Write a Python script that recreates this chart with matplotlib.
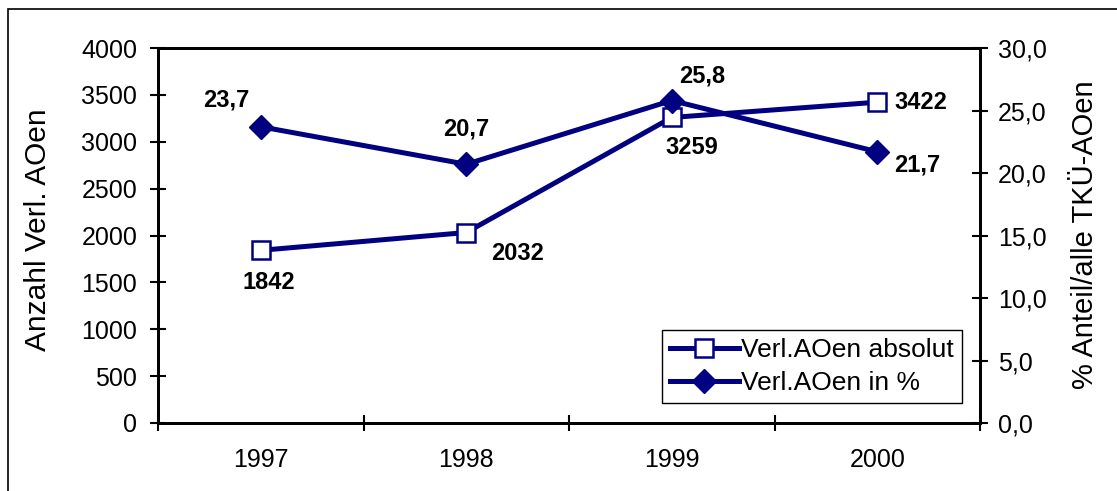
import matplotlib
matplotlib.use("Agg")
import matplotlib.pyplot as plt
from matplotlib.patches import Rectangle

plt.rcParams['font.family'] = ['Liberation Sans', 'DejaVu Sans']

# data
years = ["1997", "1998", "1999", "2000"]
absolut = [1842, 2032, 3259, 3422]
prozent = [23.7, 20.7, 25.8, 21.7]

# label offsets (pixels) relative to each point
abs_offsets = [(8, -32), (51, -21), (20, -30), (44, 0)]
pct_offsets = [(-35, 27), (0, 35), (30, 25), (40, -13)]

navy = "#000080"

fig = plt.figure(figsize=(11.17, 4.91), dpi=100)
ax = fig.add_axes([158 / 1117, 1 - 423 / 491, 822 / 1117, 375 / 491])
ax2 = ax.twinx()

x = list(range(len(years)))

l1, = ax.plot(x, absolut, color=navy, lw=3.6, marker="s", ms=13,
              mfc="white", mec=navy, mew=1.8, label="Verl.AOen absolut", zorder=3)
l2, = ax2.plot(x, prozent, color=navy, lw=3.6, marker="D", ms=12,
               mfc=navy, mec=navy, label="Verl.AOen in %", zorder=3)

for xi, v, off in zip(x, absolut, abs_offsets):
    ax.annotate(str(v), (xi, v), xytext=off, textcoords="offset pixels",
                ha="center", va="center", fontsize=17, fontweight="bold")
for xi, v, off in zip(x, prozent, pct_offsets):
    ax2.annotate(f"{v:.1f}".replace(".", ","), (xi, v), xytext=off,
                 textcoords="offset pixels", ha="center", va="center",
                 fontsize=17, fontweight="bold")

ax.set_xlim(-0.5, len(years) - 0.5)
ax.set_ylim(0, 4000)
ax2.set_ylim(0, 30)
ax.set_yticks(range(0, 4001, 500))
ax2.set_yticks(range(0, 31, 5))
ax2.set_yticklabels([f"{v:.1f}".replace(".", ",") for v in range(0, 31, 5)])

ax.set_xticks([i - 0.5 for i in range(len(years) + 1)])
ax.set_xticklabels([])
ax.set_xticks(x, minor=True)
ax.set_xticklabels(years, minor=True)
ax.tick_params(axis="x", which="minor", length=0, pad=18, labelsize=18)
ax.tick_params(axis="x", which="major", direction="inout", length=12, width=1.5)
ax.tick_params(axis="y", direction="inout", length=12, width=1.5, pad=9, labelsize=18)
ax2.tick_params(axis="y", direction="inout", length=12, width=1.5, pad=7, labelsize=18)

for a in (ax, ax2):
    for s in a.spines.values():
        s.set_linewidth(2)

fig.text(38 / 1117, 1 - 230 / 491, "Anzahl Verl. AOen", rotation=90,
         ha="center", va="center", fontsize=21.5)
fig.text(1085 / 1117, 1 - 235 / 491, "% Anteil/alle TKÜ-AOen", rotation=90,
         ha="center", va="center", fontsize=21)

leg = ax2.legend(handles=[l1, l2], loc="lower right",
                 bbox_to_anchor=((962 - 158) / 822, (423 - 403) / 375),
                 borderaxespad=0, fancybox=False, framealpha=1,
                 edgecolor="black", fontsize=19, handlelength=2.6,
                 handletextpad=0.1, borderpad=0.3, labelspacing=0.35)
leg.get_frame().set_linewidth(1)

# outer chart border (only top and left edges visible)
fig.patches.append(Rectangle((8 / 1117, -0.1), 1.2, 1 - 9 / 491 + 0.1,
                             transform=fig.transFigure, fill=False,
                             edgecolor="black", lw=1.2))

fig.savefig("out.png", dpi=100)
